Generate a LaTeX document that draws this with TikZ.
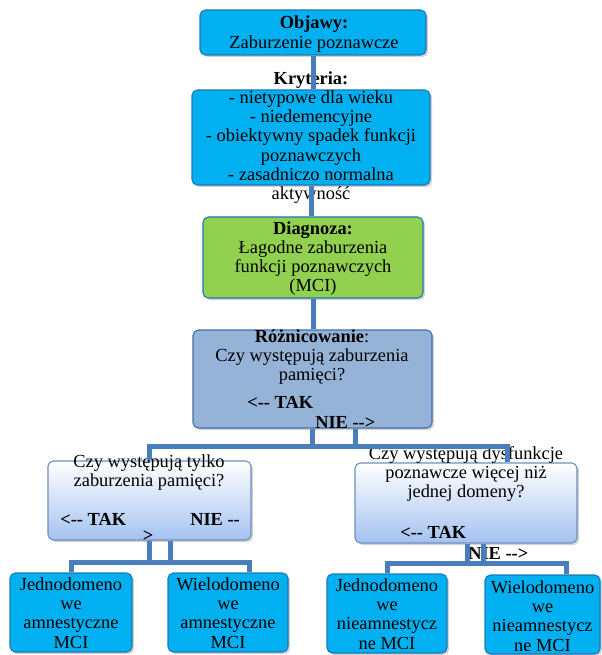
\documentclass[tikz,border=0pt]{standalone}
\usepackage{fontspec}
\setmainfont{Liberation Serif}
\usetikzlibrary{calc,shadows}
\definecolor{skyb}{HTML}{00B0F0}
\definecolor{boxline}{HTML}{1C78B8}
\definecolor{diaggreen}{HTML}{92D050}
\definecolor{rozblue}{HTML}{95B3D7}
\definecolor{rozline}{HTML}{3F70AE}
\definecolor{qblue}{HTML}{A4C2F0}
\definecolor{qline}{HTML}{6F8FC0}
\definecolor{linkblue}{HTML}{4A7EBB}
\tikzset{
  box/.style={draw=boxline, line width=0.8pt, rounded corners=4pt,
    drop shadow={shadow xshift=1.5pt, shadow yshift=-1.5pt, opacity=0.35}},
  qbox/.style={box, draw=qline, top color=white, bottom color=qblue},
  leaf/.style={box, fill=skyb, minimum height=59.25pt},
  txt/.style={align=center, inner sep=0pt, font=\fontsize{13.8}{14.4}\selectfont},
  link/.style={draw=linkblue, line width=3.75pt}
}
\begin{document}
\begin{tikzpicture}[x=0.75pt,y=-0.75pt]
\useasboundingbox (0,0) rectangle (601,655);
\node[box,fill=skyb,minimum width=169.5pt,minimum height=33.75pt] (objawy) at (313,32.5) {};
\node[box,fill=skyb,minimum width=178.5pt,minimum height=71.25pt] (kryt) at (311,137.5) {};
\node[box,fill=diaggreen,minimum width=165pt,minimum height=60.75pt] (diag) at (313,257.5) {};
\node[box,fill=rozblue,draw=rozline,minimum width=179.25pt,minimum height=73.5pt] (roz) at (312.5,379) {};
\node[qbox,minimum width=152.25pt,minimum height=59.25pt] (qleft) at (149.5,500.5) {};
\node[qbox,minimum width=166.5pt,minimum height=60pt] (qright) at (466,503) {};
\node[leaf,minimum width=91.5pt] (ll1) at (71,612.5) {};
\node[leaf,minimum width=90pt] (ll2) at (228,612.5) {};
\node[leaf,minimum width=90pt] (rl1) at (387,613.5) {};
\node[leaf,minimum width=86.25pt] (rl2) at (542.5,614.5) {};
\node[txt] (tobjawy) at (314,34) {\textbf{Objawy:}\\Zaburzenie poznawcze};
\node[txt] (tkryt) at (311,137.5) {\textbf{Kryteria:}\\- nietypowe dla wieku\\- niedemencyjne\\- obiektywny spadek funkcji\\poznawczych\\- zasadniczo normalna\\aktywność};
\node[txt] (tdiag) at (313,258.5) {\textbf{Diagnoza:}\\Łagodne zaburzenia\\funkcji poznawczych\\(MCI)};
\node[txt] (troz) at (312,357) {\textbf{Różnicowanie}:\\Czy występują zaburzenia\\pamięci?};
\node[txt,anchor=west] (rtak) at (247,402) {\textbf{<{-}{-} TAK}};
\node[txt,anchor=west] (rnie) at (315,422) {\textbf{NIE {-}{-}>}};
\node[txt] (tqleft) at (149,472.5) {Czy występują tylko\\zaburzenia pamięci?};
\node[txt,anchor=west] (ltak) at (60,519) {\textbf{<{-}{-} TAK}};
\node[txt,anchor=west] (lnie) at (190,519) {\textbf{NIE {-}{-}}};
\node[txt] (lgt) at (148,536) {\textbf{>}};
\node[txt] (tqright) at (466,474) {Czy występują dysfunkcje\\poznawcze więcej niż\\jednej domeny?};
\node[txt,anchor=west] (qtak) at (400,532) {\textbf{<{-}{-} TAK}};
\node[txt,anchor=west] (qnie) at (468,553) {\textbf{NIE {-}{-}>}};
\node[txt] (tll1) at (71,613) {Jednodomeno\\we\\amnestyczne\\MCI};
\node[txt] (tll2) at (228,613) {Wielodomeno\\we\\amnestyczne\\MCI};
\node[txt] (trl1) at (387,614) {Jednodomeno\\we\\nieamnestycz\\ne MCI};
\node[txt] (trl2) at (542.5,616) {Wielodomeno\\we\\nieamnestycz\\ne MCI};
\draw[link] (objawy.south) -- (objawy.south |- kryt.north);
\draw[link] (kryt.south) -- (kryt.south |- diag.north);
\draw[link] (diag.south) -- (diag.south |- roz.north);
\draw[link] (roz.south) -- ++(0,18) -| (qleft.north);
\draw[link] ($(roz.south)+(43,0)$) -- ++(0,18) -| ($(qright.north)+(41,0)$);
\draw[link] ($(roz.south)+(0,18)$) -- ++(43,0);
\draw[link] (qleft.south) -- ++(0,22) -| (ll1.north);
\draw[link] ($(qleft.south)+(21,0)$) -- ++(0,22) -| ($(ll2.north)+(21,0)$);
\draw[link] ($(qleft.south)+(0,22)$) -- ++(21,0);
\draw[link] ($(qright.south)+(1,0)$) -- ++(0,20) -| (rl1.north);
\draw[link] ($(qright.south)+(17,0)$) -- ++(0,20) -| ($(rl2.north)+(23.5,0)$);
\draw[link] ($(qright.south)+(1,20)$) -- ++(16,0);
\end{tikzpicture}
\end{document}
